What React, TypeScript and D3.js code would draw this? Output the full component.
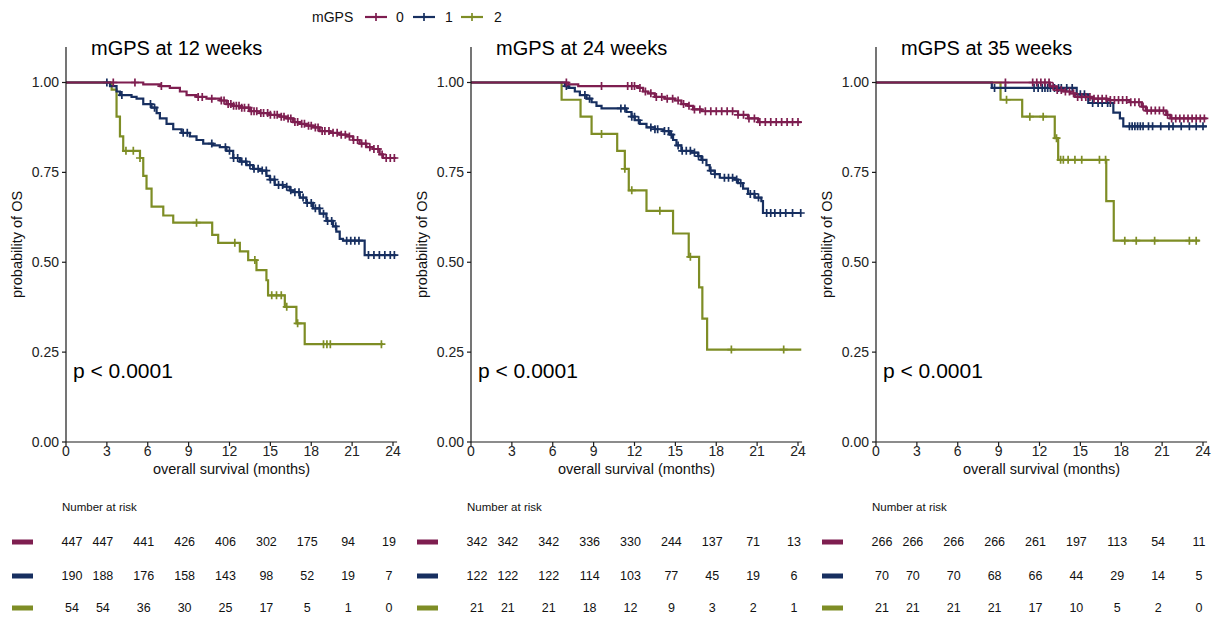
import React from "react";
import * as d3 from "d3";

// ---------------- DATA ----------------
const groups = ["0", "1", "2"];
const panelTitles = ["mGPS at 12 weeks", "mGPS at 24 weeks", "mGPS at 35 weeks"];
const pValueLabel = "p < 0.0001";
const xTicks = [0, 3, 6, 9, 12, 15, 18, 21, 24];
const yTicks = [0, 0.25, 0.5, 0.75, 1];
const riskTimes = [0, 3, 6, 9, 12, 15, 18, 21, 24];

// steps: [time (months), survival after step]
const p1g0Steps: [number, number][] = [
  [5.67, 0.995], [6.89, 0.99], [7.62, 0.985], [8.36, 0.975], [8.85, 0.965], [9.58, 0.96],
  [10.31, 0.955], [11.29, 0.95], [11.78, 0.94], [12.27, 0.935], [12.76, 0.93], [13.49, 0.92],
  [14.22, 0.915], [14.96, 0.91], [15.69, 0.905], [16.18, 0.9], [16.67, 0.89], [17.16, 0.885],
  [17.64, 0.88], [18.13, 0.875], [18.62, 0.865], [19.36, 0.86], [20.09, 0.855], [20.58, 0.85],
  [21.07, 0.84], [21.55, 0.83], [22.04, 0.82], [22.53, 0.815], [23.02, 0.8], [23.27, 0.79],
];
const p1g0End = 24.24;
const p1g0Censor = [3.47, 5.06, 7.0, 9.7, 10.0, 10.7, 11.4, 11.6, 11.9, 12.1, 12.3, 12.5, 12.7, 12.9, 13.1, 13.4, 13.6, 13.8, 14.0, 14.3, 14.5, 14.8, 15.0, 15.3, 15.5, 15.8, 16.0, 16.3, 16.5, 16.8, 17.0, 17.3, 17.5, 17.8, 18.0, 18.3, 18.5, 18.8, 19.0, 19.3, 19.6, 19.9, 20.2, 20.5, 20.8, 21.1, 21.4, 21.7, 22.0, 22.3, 22.6, 22.9, 23.2, 23.5, 23.8, 24.1];

const p1g1Steps: [number, number][] = [
  [3.23, 0.99], [3.71, 0.975], [3.96, 0.965], [4.81, 0.96], [5.18, 0.955], [5.67, 0.94],
  [6.28, 0.93], [6.65, 0.915], [6.89, 0.9], [7.38, 0.885], [7.87, 0.87], [8.48, 0.86],
  [9.09, 0.85], [9.58, 0.84], [10.07, 0.83], [10.8, 0.825], [11.29, 0.82], [11.78, 0.81],
  [12.27, 0.79], [12.76, 0.78], [13.25, 0.77], [13.73, 0.76], [14.22, 0.755], [14.71, 0.74],
  [14.96, 0.73], [15.32, 0.715], [15.93, 0.71], [16.42, 0.7], [16.67, 0.695], [17.16, 0.68],
  [17.64, 0.665], [18.13, 0.65], [18.62, 0.635], [19.11, 0.615], [19.6, 0.6], [19.84, 0.585],
  [20.09, 0.565], [20.33, 0.56], [21.92, 0.52],
];
const p1g1End = 24.24;
const p1g1Censor = [3.0, 4.1, 6.2, 6.5, 8.6, 8.9, 10.7, 11.7, 12.0, 12.3, 12.6, 12.9, 13.2, 13.5, 13.8, 14.1, 14.4, 14.7, 15.0, 15.3, 15.6, 15.9, 16.2, 16.5, 16.8, 17.1, 17.4, 17.7, 18.0, 18.3, 18.6, 18.9, 19.2, 19.5, 19.8, 20.6, 20.9, 21.2, 21.5, 22.2, 22.6, 23.0, 23.4, 23.8, 24.1];

const p1g2Steps: [number, number][] = [
  [3.35, 0.98], [3.71, 0.905], [3.96, 0.85], [4.2, 0.81], [5.43, 0.79], [5.67, 0.74],
  [5.91, 0.705], [6.28, 0.655], [7.14, 0.63], [7.87, 0.61], [10.73, 0.576], [11.17, 0.554],
  [12.76, 0.53], [13.37, 0.506], [13.98, 0.478], [14.71, 0.45], [14.83, 0.408], [16.06, 0.376],
  [16.91, 0.33], [17.52, 0.272],
];
const p1g2End = 23.27;
const p1g2Censor = [4.4, 4.94, 5.43, 9.58, 12.39, 13.86, 15.1, 15.45, 15.8, 16.2, 17.0, 18.9, 19.15, 19.4, 23.15];

const p2g0Steps: [number, number][] = [
  [7.14, 0.995], [7.87, 0.99], [12.27, 0.985], [12.63, 0.975], [13.0, 0.97], [13.49, 0.96],
  [14.22, 0.955], [14.96, 0.95], [15.44, 0.94], [15.93, 0.935], [16.3, 0.925], [16.91, 0.92],
  [19.6, 0.91], [20.33, 0.9], [21.07, 0.89],
];
const p2g0End = 24.24;
const p2g0Censor = [7.0, 9.58, 11.5, 11.8, 12.0, 12.4, 12.8, 13.2, 13.6, 14.0, 14.4, 14.8, 15.2, 15.6, 16.0, 16.4, 16.8, 17.2, 17.6, 18.0, 18.4, 18.8, 19.2, 19.6, 20.0, 20.4, 20.8, 21.2, 21.6, 22.0, 22.4, 22.8, 23.2, 23.6, 24.0];

const p2g1Steps: [number, number][] = [
  [6.89, 0.99], [7.14, 0.985], [7.62, 0.975], [7.99, 0.965], [8.48, 0.955], [8.85, 0.945],
  [9.21, 0.935], [9.58, 0.928], [11.41, 0.918], [11.78, 0.905], [12.02, 0.895], [12.39, 0.885],
  [12.88, 0.875], [13.49, 0.87], [14.1, 0.865], [14.59, 0.855], [14.83, 0.84], [15.08, 0.825],
  [15.44, 0.81], [16.18, 0.805], [16.67, 0.795], [16.91, 0.785], [17.28, 0.77], [17.52, 0.755],
  [17.89, 0.745], [18.26, 0.735], [19.36, 0.73], [19.6, 0.72], [19.97, 0.705], [20.33, 0.69],
  [20.82, 0.68], [21.31, 0.67], [21.43, 0.637],
];
const p2g1End = 24.24;
const p2g1Censor = [7.0, 8.36, 8.7, 11.0, 11.3, 11.8, 12.0, 12.3, 13.2, 13.5, 13.7, 14.2, 14.5, 14.7, 15.2, 15.5, 15.8, 16.1, 16.4, 16.7, 17.0, 17.6, 17.9, 18.6, 18.9, 19.2, 19.5, 19.8, 20.5, 20.8, 21.1, 21.7, 22.0, 22.3, 22.7, 23.1, 23.6, 24.2];

const p2g2Steps: [number, number][] = [
  [6.65, 0.952], [8.04, 0.905], [8.85, 0.857], [10.73, 0.81], [11.29, 0.76], [11.58, 0.7],
  [12.88, 0.643], [14.83, 0.58], [15.98, 0.515], [16.74, 0.43], [16.98, 0.343], [17.33, 0.257],
];
const p2g2End = 24.24;
const p2g2Censor = [9.58, 11.29, 11.8, 13.86, 16.1, 19.11, 22.95];

const p3g0Steps: [number, number][] = [
  [12.77, 0.989], [13.27, 0.979], [13.75, 0.975], [14.24, 0.97], [14.6, 0.96], [15.95, 0.955],
  [16.93, 0.951], [18.6, 0.945], [19.5, 0.933], [19.8, 0.922], [21.3, 0.91], [21.6, 0.9],
];
const p3g0End = 24.27;
const p3g0Censor = [9.5, 11.5, 11.8, 12.1, 12.4, 12.7, 13.0, 13.3, 13.6, 13.9, 14.2, 14.5, 14.8, 15.1, 15.4, 15.7, 16.0, 16.3, 16.6, 16.9, 17.2, 17.5, 17.8, 18.1, 18.4, 18.7, 19.0, 19.3, 19.6, 19.9, 20.2, 20.5, 20.8, 21.1, 21.4, 21.7, 22.0, 22.3, 22.6, 22.9, 23.2, 23.5, 23.8, 24.1];

const p3g1Steps: [number, number][] = [
  [8.5, 0.985], [14.73, 0.967], [15.58, 0.943], [17.42, 0.916], [17.9, 0.9], [18.15, 0.878],
];
const p3g1End = 24.27;
const p3g1Censor = [8.7, 9.5, 11.6, 11.9, 12.2, 12.4, 12.6, 12.8, 13.1, 13.4, 13.6, 14.0, 14.4, 15.0, 15.3, 15.9, 16.3, 16.6, 17.0, 17.2, 18.6, 18.8, 19.0, 19.2, 19.4, 19.6, 20.0, 20.3, 20.9, 21.5, 21.8, 22.4, 23.0, 23.5, 24.0];

const p3g2Steps: [number, number][] = [
  [9.14, 0.952], [10.73, 0.905], [13.12, 0.845], [13.37, 0.785], [16.9, 0.67], [17.45, 0.56],
];
const p3g2End = 23.75;
const p3g2Censor = [9.58, 11.29, 12.27, 13.25, 13.55, 13.75, 14.1, 14.6, 15.1, 16.4, 16.85, 18.26, 19.1, 20.45, 23.0, 23.5];

const p1Risk = [
  [447, 447, 441, 426, 406, 302, 175, 94, 19],
  [190, 188, 176, 158, 143, 98, 52, 19, 7],
  [54, 54, 36, 30, 25, 17, 5, 1, 0],
];
const p2Risk = [
  [342, 342, 342, 336, 330, 244, 137, 71, 13],
  [122, 122, 122, 114, 103, 77, 45, 19, 6],
  [21, 21, 21, 18, 12, 9, 3, 2, 1],
];
const p3Risk = [
  [266, 266, 266, 266, 261, 197, 113, 54, 11],
  [70, 70, 70, 68, 66, 44, 29, 14, 5],
  [21, 21, 21, 21, 17, 10, 5, 2, 0],
];

const panels = [
  {
    title: panelTitles[0],
    curves: [
      { steps: p1g0Steps, end: p1g0End, censor: p1g0Censor },
      { steps: p1g1Steps, end: p1g1End, censor: p1g1Censor },
      { steps: p1g2Steps, end: p1g2End, censor: p1g2Censor },
    ],
    risk: p1Risk,
  },
  {
    title: panelTitles[1],
    curves: [
      { steps: p2g0Steps, end: p2g0End, censor: p2g0Censor },
      { steps: p2g1Steps, end: p2g1End, censor: p2g1Censor },
      { steps: p2g2Steps, end: p2g2End, censor: p2g2Censor },
    ],
    risk: p2Risk,
  },
  {
    title: panelTitles[2],
    curves: [
      { steps: p3g0Steps, end: p3g0End, censor: p3g0Censor },
      { steps: p3g1Steps, end: p3g1End, censor: p3g1Censor },
      { steps: p3g2Steps, end: p3g2End, censor: p3g2Censor },
    ],
    risk: p3Risk,
  },
];

// ---------------- STYLE / LAYOUT ----------------
const colors = ["#7E1E50", "#172F60", "#7E8D25"];
const FONT = "'Liberation Sans', Arial, Helvetica, sans-serif";
const W = 1216;
const H = 621;
const firstX0 = 66;
const panelStep = 405;
const plotWidth = 327; // 0..24 months
const yBottom = 442;
const yOne = 82.5;
const yTop = 47;
const riskRowsY = [542, 576, 608];
const censorHalf = 4;

function survAt(steps: [number, number][], t: number) {
  let s = 1;
  for (const [st, sv] of steps) {
    if (st <= t) s = sv;
    else break;
  }
  return s;
}

function Panel({ panel, idx }: { panel: any; idx: number }) {
  const x0 = firstX0 + idx * panelStep;
  const x = d3.scaleLinear().domain([0, 24]).range([x0, x0 + plotWidth]);
  const y = d3.scaleLinear().domain([0, 1]).range([yBottom, yOne]);
  const line = d3
    .line<[number, number]>()
    .x((d) => x(d[0]))
    .y((d) => y(d[1]))
    .curve(d3.curveStepAfter);
  const axisColor = "#1a1a1a";
  const xEnd = x(24.3);

  return (
    <g>
      <text x={x0 + 25} y={55} fontSize={20} fontFamily={FONT} fill="#000">
        {panel.title}
      </text>
      {/* curves */}
      {panel.curves
        .map((c: any, gi: number) => ({ c, gi }))
        .reverse()
        .map(({ c, gi }: any) => {
          const pts: [number, number][] = [[0, 1], ...c.steps];
          const last = pts[pts.length - 1][1];
          pts.push([c.end, last]);
          return (
            <g key={gi}>
              <path d={line(pts) || ""} fill="none" stroke={colors[gi]} strokeWidth={2.2} />
              {c.censor.map((t: number, k: number) => {
                const cx = x(t);
                const cy = y(survAt(c.steps, t));
                return (
                  <path
                    key={k}
                    d={`M${cx - censorHalf},${cy}H${cx + censorHalf}M${cx},${cy - censorHalf}V${cy + censorHalf}`}
                    stroke={colors[gi]}
                    strokeWidth={1.7}
                  />
                );
              })}
            </g>
          );
        })}
      {/* axes */}
      <line x1={x0} x2={x0} y1={yTop} y2={yBottom} stroke={axisColor} strokeWidth={1.2} />
      <line x1={x0} x2={xEnd} y1={yBottom} y2={yBottom} stroke={axisColor} strokeWidth={1.2} />
      {yTicks.map((v) => (
        <g key={v}>
          <line x1={x0 - 4} x2={x0} y1={y(v)} y2={y(v)} stroke={axisColor} strokeWidth={1.2} />
          <text
            x={x0 - 7}
            y={y(v)}
            dy="0.35em"
            textAnchor="end"
            fontSize={14}
            fontFamily={FONT}
            fill="#222"
          >
            {d3.format(".2f")(v)}
          </text>
        </g>
      ))}
      {xTicks.map((v) => (
        <g key={v}>
          <line x1={x(v)} x2={x(v)} y1={yBottom} y2={yBottom + 4} stroke={axisColor} strokeWidth={1.2} />
          <text x={x(v)} y={456} textAnchor="middle" fontSize={14} fontFamily={FONT} fill="#222">
            {v}
          </text>
        </g>
      ))}
      <text
        x={(x0 + xEnd) / 2}
        y={474}
        textAnchor="middle"
        fontSize={14.5}
        fontFamily={FONT}
        fill="#111"
      >
        overall survival (months)
      </text>
      <text
        transform={`translate(${x0 - 44},${(yTop + yBottom) / 2}) rotate(-90)`}
        textAnchor="middle"
        fontSize={14.5}
        fontFamily={FONT}
        fill="#111"
      >
        probability of OS
      </text>
      <text x={x0 + 7} y={378} fontSize={21} fontFamily={FONT} fill="#000">
        {pValueLabel}
      </text>
      {/* risk table */}
      <text x={x0 - 4} y={511} fontSize={11.5} fontFamily={FONT} fill="#111">
        Number at risk
      </text>
      {panel.risk.map((row: number[], gi: number) => (
        <g key={gi}>
          <rect x={x0 - 54} y={riskRowsY[gi] - 2.5} width={21} height={5} fill={colors[gi]} />
          {row.map((n: number, k: number) => (
            <text
              key={k}
              x={Math.max(x(riskTimes[k]) - 4, x0 + 6)}
              y={riskRowsY[gi]}
              dy="0.35em"
              textAnchor="middle"
              fontSize={12.5}
              fontFamily={FONT}
              fill="#111"
            >
              {n}
            </text>
          ))}
        </g>
      ))}
    </g>
  );
}

function Legend() {
  const keyX = [365, 413, 461];
  const labelX = [396, 445, 494];
  const cy = 17;
  return (
    <g>
      <text x={312} y={cy} dy="0.35em" fontSize={14} fontFamily={FONT} fill="#111">
        mGPS
      </text>
      {groups.map((g, i) => (
        <g key={g}>
          <line x1={keyX[i]} x2={keyX[i] + 22} y1={cy} y2={cy} stroke={colors[i]} strokeWidth={2.2} />
          <line x1={keyX[i] + 11} x2={keyX[i] + 11} y1={cy - 4} y2={cy + 4} stroke={colors[i]} strokeWidth={1.7} />
          <text x={labelX[i]} y={cy} dy="0.35em" fontSize={14} fontFamily={FONT} fill="#111">
            {g}
          </text>
        </g>
      ))}
    </g>
  );
}

export default function App() {
  return (
    <svg
      width={W}
      height={H}
      viewBox={`0 0 ${W} ${H}`}
      style={{ position: "absolute", left: 0, top: 0, background: "#fff" }}
    >
      <rect width={W} height={H} fill="#fff" />
      <Legend />
      {panels.map((p, i) => (
        <Panel key={i} panel={p} idx={i} />
      ))}
    </svg>
  );
}
